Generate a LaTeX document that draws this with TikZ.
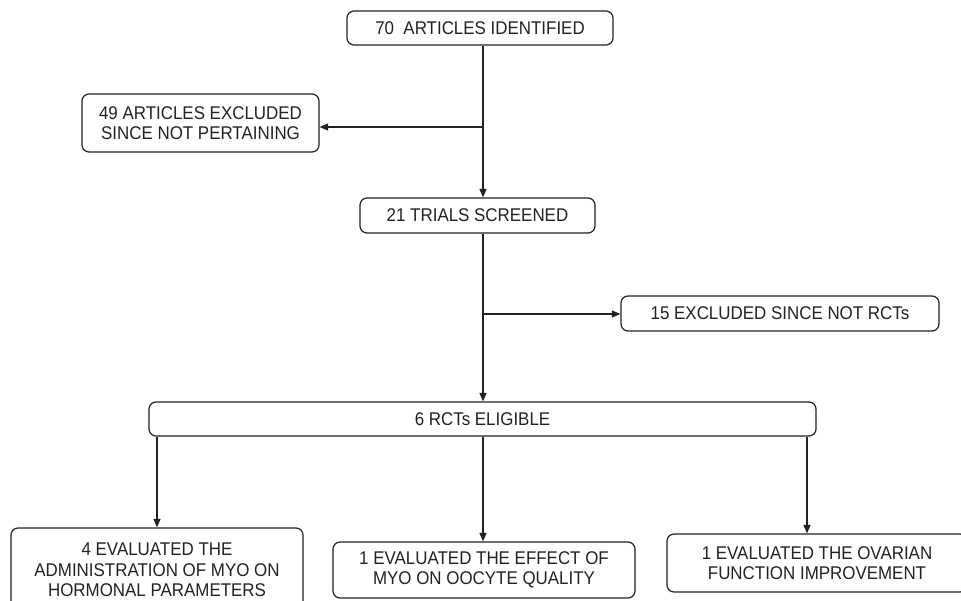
\documentclass[tikz,border=0pt]{standalone}
\usepackage{fontspec}
\setmainfont{Liberation Sans}[FakeStretch=0.92]
\usetikzlibrary{arrows.meta}
\definecolor{ink}{HTML}{222222}
\tikzset{
  box/.style={draw=ink, line width=1.2pt, rounded corners=7pt, inner sep=0pt,
    align=center, text=ink, font=\fontsize{18.4}{20.5}\selectfont},
  conn/.style={draw=ink, line width=1.2pt, -{Triangle[length=8.5pt,width=7pt]}},
  plain/.style={draw=ink, line width=1.2pt}
}
\begin{document}
\begin{tikzpicture}[x=1pt,y=-1pt]
\useasboundingbox (0,0) rectangle (961,600);
\clip (0,0) rectangle (961,600);
\fill[white] (0,0) rectangle (961,600);

\node[box, minimum width=266pt, minimum height=34pt] (n70) at (480,28) {70\ \ ARTICLES IDENTIFIED};
\node[box, minimum width=237pt, minimum height=58pt] (n49) at (200.5,123) {49 ARTICLES EXCLUDED\\SINCE NOT PERTAINING};
\node[box, minimum width=235pt, minimum height=35pt] (n21) at (477.5,215.5) {21 TRIALS SCREENED};
\node[box, minimum width=318pt, minimum height=35pt] (n15) at (780,313.5) {15 EXCLUDED SINCE NOT RCTs};
\node[box, minimum width=667pt, minimum height=34pt] (n6) at (482.5,419) {6 RCTs ELIGIBLE};
\node[box, minimum width=292pt, minimum height=84pt] (b1) at (157,570) {4 EVALUATED THE\\ADMINISTRATION OF MYO ON\\HORMONAL PARAMETERS};
\node[box, minimum width=302pt, minimum height=56pt] (b2) at (484,570) {1 EVALUATED THE EFFECT OF\\MYO ON OOCYTE QUALITY};
\node[box, minimum width=300pt, minimum height=58pt] (b3) at (817,563) {1 EVALUATED THE OVARIAN\\FUNCTION IMPROVEMENT};

\coordinate (m) at (483,0);
\coordinate (j1) at (483,127);
\coordinate (j2) at (483,314);
\coordinate (c1) at (157,0);
\coordinate (c2) at (483,0);
\coordinate (c3) at (807,0);

\draw[conn] (n70.south -| m) -- (n21.north -| m);
\draw[conn] (j1) -- (j1 -| n49.east);
\draw[conn] (n21.south -| m) -- (n6.north -| m);
\draw[conn] (j2) -- (j2 -| n15.west);
\draw[conn] (n6.south -| c1) -- (b1.north -| c1);
\draw[conn] (n6.south -| c2) -- (b2.north -| c2);
\draw[conn] (n6.south -| c3) -- (b3.north -| c3);
\end{tikzpicture}
\end{document}
